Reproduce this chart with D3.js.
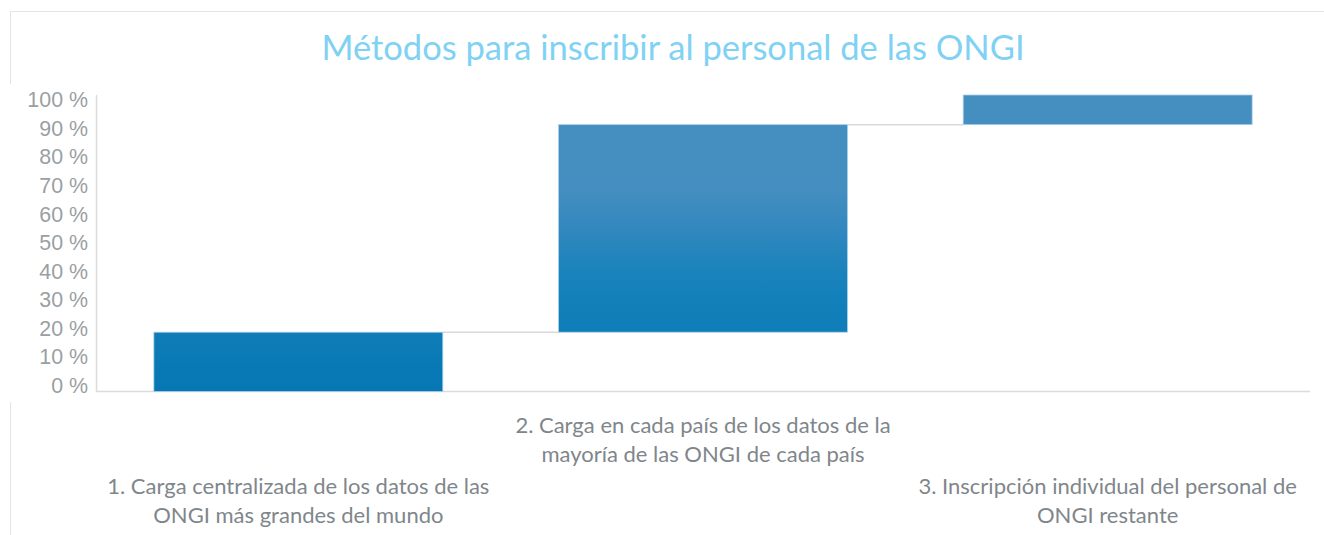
<!DOCTYPE html>
<html lang="es">
<head>
    <meta charset="UTF-8">
    <title>Métodos para inscribir al personal de las ONGI</title>
    <style>
        body { margin:0; background:#fff; }
        .axis .domain, .axis .tick line { display:none; }
    </style>
</head>
<body>
    <svg width="1324" height="535"></svg>
    <script src="https://d3js.org/d3.v7.min.js"></script>
    <script>
        // data
        var title = "Métodos para inscribir al personal de las ONGI";
        var categories = [
            "1. Carga centralizada de los datos de las ONGI más grandes del mundo",
            "2. Carga en cada país de los datos de la mayoría de las ONGI de cada país",
            "3. Inscripción individual del personal de ONGI restante"
        ];
        var categoryLines = [
            ["1. Carga centralizada de los datos de las", "ONGI más grandes del mundo"],
            ["2. Carga en cada país de los datos de la", "mayoría de las ONGI de cada país"],
            ["3. Inscripción individual del personal de", "ONGI restante"]
        ];
        var values = [20, 70, 10];   // share of staff, %
        var yTicks = [0, 10, 20, 30, 40, 50, 60, 70, 80, 90, 100];

        var svg = d3.select("svg"),
            margin = {top: 95, right: 14, bottom: 143.5, left: 96},
            width = +svg.attr("width") - margin.left - margin.right,
            height = +svg.attr("height") - margin.top - margin.bottom;

        // waterfall: each bar starts where the previous ended
        var acc = 0;
        var bars = values.map(function(v, i) {
            var d = {cat: categories[i], lines: categoryLines[i], start: acc, end: acc + v};
            acc += v;
            return d;
        });

        var x = d3.scaleBand()
            .domain(categories)
            .range([0, width])
            .paddingInner(0.286)
            .paddingOuter(0.143);

        var y = d3.scaleLinear().domain([0, 100]).range([height, 0]);
        // Excel puts the tick labels on a slightly tighter spacing than the gridlines
        var yLab = d3.scaleLinear().domain([0, 100]).range([height - 6, 5]);

        // frame pieces
        var frame = svg.append("g").attr("stroke", "#e3e3e3").attr("stroke-width", 1);
        frame.append("line").attr("x1", 10).attr("x2", 1324).attr("y1", 11.5).attr("y2", 11.5);
        frame.append("line").attr("x1", 10.5).attr("x2", 10.5).attr("y1", 11).attr("y2", 84);
        frame.append("line").attr("x1", 10.5).attr("x2", 10.5).attr("y1", 402).attr("y2", 535);

        svg.append("text")
            .attr("x", 673)
            .attr("y", 60)
            .attr("text-anchor", "middle")
            .attr("font-family", "Lato, 'Open Sans', sans-serif")
            .attr("font-size", 34.5)
            .attr("fill", "#7fd2f3")
            .text(title);

        var defs = svg.append("defs");
        var grad = defs.append("linearGradient")
            .attr("id", "barGrad")
            .attr("gradientUnits", "userSpaceOnUse")
            .attr("x1", 0).attr("x2", 0)
            .attr("y1", margin.top).attr("y2", margin.top + height);
        grad.append("stop").attr("offset", "0%").attr("stop-color", "#448ec0");
        grad.append("stop").attr("offset", "10%").attr("stop-color", "#3689bf");
        grad.append("stop").attr("offset", "30%").attr("stop-color", "#1782bb");
        grad.append("stop").attr("offset", "60%").attr("stop-color", "#0979b5");
        grad.append("stop").attr("offset", "100%").attr("stop-color", "#0071ad");

        var g = svg.append("g").attr("transform", "translate(" + margin.left + "," + margin.top + ")");

        // axis lines
        g.append("line")
            .attr("x1", 0.5).attr("x2", 0.5).attr("y1", 0).attr("y2", height)
            .attr("stroke", "#dcdcdc").attr("stroke-width", 1.5);
        g.append("line")
            .attr("x1", 0).attr("x2", width).attr("y1", height).attr("y2", height)
            .attr("stroke", "#dcdcdc").attr("stroke-width", 1.5);

        g.append("g")
            .attr("class", "axis")
            .attr("transform", "translate(-8,0)")
            .call(d3.axisLeft(yLab).tickValues(yTicks).tickSize(0).tickPadding(0)
                .tickFormat(function(d) { return d + " %"; }))
            .selectAll("text")
                .attr("font-family", "'Liberation Sans', Arial, sans-serif")
                .attr("font-size", 21.4)
                .attr("fill", "#9a9fa3");

        // connectors between bars
        g.append("g").selectAll("line")
            .data(bars.slice(0, -1))
            .enter().append("line")
                .attr("x1", function(d) { return x(d.cat) + x.bandwidth(); })
                .attr("x2", function(d, i) { return x(bars[i + 1].cat); })
                .attr("y1", function(d) { return y(d.end); })
                .attr("y2", function(d) { return y(d.end); })
                .attr("stroke", "#d9d9d9")
                .attr("stroke-width", 1.5);

        g.append("g").selectAll("rect")
            .data(bars)
            .enter().append("rect")
                .attr("x", function(d) { return x(d.cat); })
                .attr("y", function(d) { return y(d.end); })
                .attr("width", x.bandwidth())
                .attr("height", function(d) { return y(d.start) - y(d.end); })
                .attr("fill", "url(#barGrad)")
                .attr("stroke", "#a9cfe9")
                .attr("stroke-width", 0.8);

        // category labels, middle one raised
        var labels = g.append("g")
            .attr("font-family", "Lato, 'Open Sans', sans-serif")
            .attr("font-size", 22)
            .attr("fill", "#7f868b")
            .attr("text-anchor", "middle")
            .selectAll("text")
            .data(bars)
            .enter().append("text")
                .attr("transform", function(d, i) {
                    var top = (i % 2 === 1) ? 433 : 494;
                    return "translate(" + (x(d.cat) + x.bandwidth() / 2) + "," + (top - margin.top) + ")";
                });
        labels.selectAll("tspan")
            .data(function(d) { return d.lines; })
            .enter().append("tspan")
                .attr("x", 0)
                .attr("y", function(d, i) { return i * 29; })
                .text(function(d) { return d; });
    </script>
</body>
</html>
